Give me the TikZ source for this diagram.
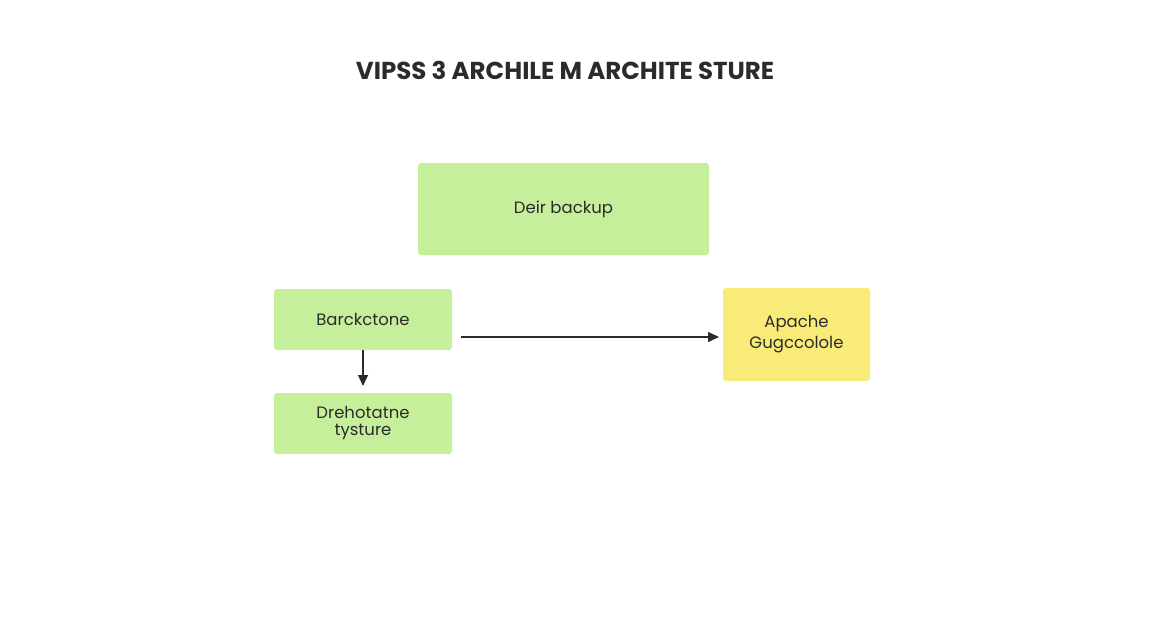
\documentclass[tikz,border=0pt]{standalone}
\usepackage{fontspec}
\setmainfont{Poppins}
\usetikzlibrary{arrows.meta,calc}
\definecolor{gbox}{HTML}{C5EF9A}
\definecolor{ybox}{HTML}{F9EB78}
\definecolor{ink}{HTML}{2B2B2B}
\begin{document}
\begin{tikzpicture}[x=1pt,y=-1pt,
  box/.style={draw=none,rounded corners=3pt,inner sep=0pt,align=center,font=\fontsize{16.5}{17}\selectfont,text=ink},
  arr/.style={draw=ink,line width=1.1pt,-{Triangle[length=11pt,width=10pt]}}]
\useasboundingbox[fill=white] (0,0) rectangle (1152,640);
\node[font=\fontseries{sb}\selectfont\fontsize{24.5}{28}\selectfont,text=ink] (title) at (565,70) {VIPSS 3 ARCHILE M ARCHITE STURE};
\node[box,fill=gbox,minimum width=291pt,minimum height=92pt] (deir) at (563.5,209) {Deir backup};
\node[box,fill=gbox,minimum width=178pt,minimum height=61pt] (bar) at (363,319.5) {Barckctone};
\node[box,fill=gbox,minimum width=178pt,minimum height=61pt] (dre) at (363,423.5) {Drehotatne\\[0pt]tysture};
\node[box,fill=ybox,minimum width=147pt,minimum height=93pt] (apa) at (796.5,334.5) {Apache\\[4pt]Gugccolole};
\coordinate (a1) at (461,337);
\coordinate (a2) at (719,337);
\coordinate (b2) at (363,386);
\draw[arr] (a1) -- (a2);
\draw[arr] (bar.south) -- (b2);
\end{tikzpicture}
\end{document}
